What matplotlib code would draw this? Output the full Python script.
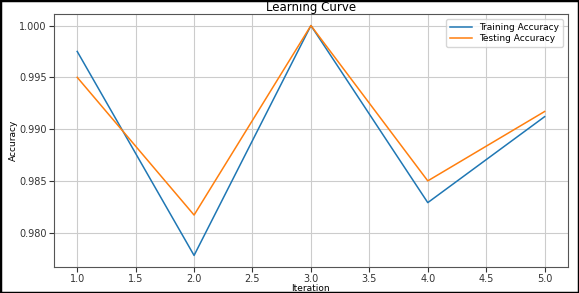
import matplotlib
matplotlib.use("Agg")
import matplotlib.pyplot as plt
from matplotlib.patches import Rectangle

# Learning curve values
iterations = [1, 2, 3, 4, 5]
train_acc = [0.9975, 0.9778, 1.0, 0.9829, 0.9912]
test_acc = [0.995, 0.9817, 1.0, 0.985, 0.9917]

fig = plt.figure(figsize=(5.79, 2.93), dpi=100)
ax = fig.add_axes([0.093, 0.089, 0.888, 0.863])

ax.plot(iterations, train_acc, color='#1f77b4', lw=1.1, label='Training Accuracy')
ax.plot(iterations, test_acc, color='#ff7f0e', lw=1.1, label='Testing Accuracy')

ax.set_title('Learning Curve', fontsize=8.5, pad=2)
ax.set_xlabel('Iteration', fontsize=6.5, labelpad=0)
ax.set_ylabel('Accuracy', fontsize=6.5, labelpad=1)
ax.tick_params(labelsize=7, length=3.5, pad=1.5, colors='#333333')
ax.grid(True, color='#cccccc', lw=0.8)
for s in ax.spines.values():
    s.set_color('#555555')
ax.legend(fontsize=6.5, loc='upper right', handlelength=2.4, borderpad=0.4,
          labelspacing=0.25, borderaxespad=0.6)

# black frame round the whole picture
fig.patches.append(Rectangle((0, 0), 1, 1, transform=fig.transFigure, fill=False,
                             edgecolor='black', lw=2.5))

plt.savefig('out.png', dpi=100)
